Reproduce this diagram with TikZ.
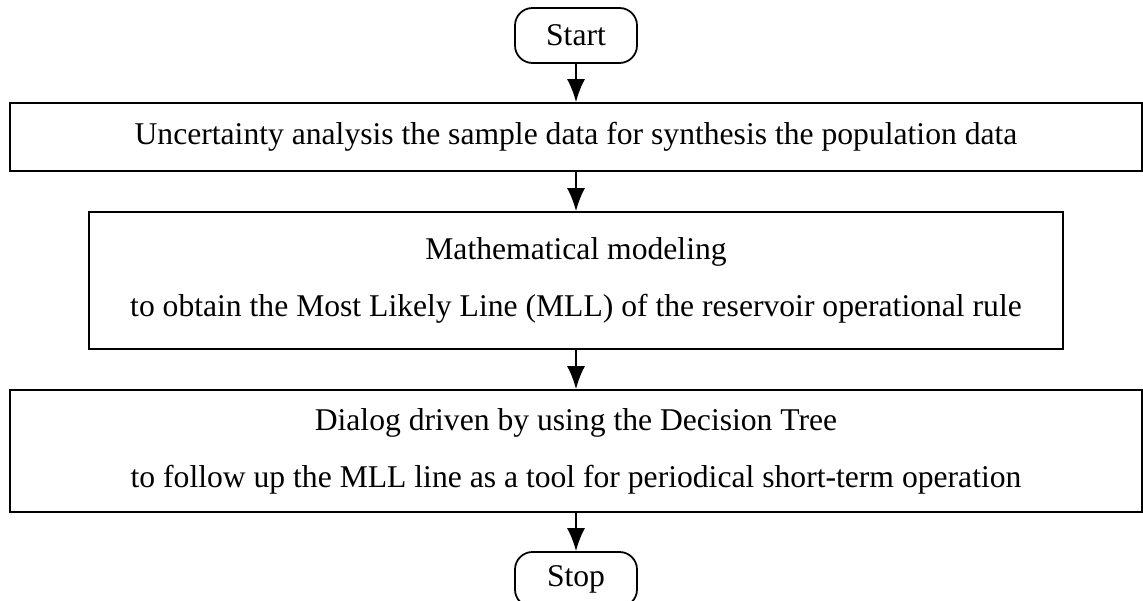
\documentclass[tikz,border=0pt]{standalone}
\usepackage{fontspec}
\setmainfont{Liberation Serif}
\usetikzlibrary{arrows.meta}
\begin{document}
\begin{tikzpicture}[x=1cm,y=1cm,
  every node/.style={font=\fontsize{18}{32.4}\selectfont},
  term/.style={draw,line width=1pt,rounded corners=0.35cm,minimum width=2.44cm,minimum height=1.10cm,inner sep=0pt},
  proc/.style={draw,line width=1pt,align=center,inner sep=0pt},
  flow/.style={-{Latex[length=4.6mm,width=3.6mm]},line width=1pt}]
\useasboundingbox (0,0) rectangle (22.86,-12.02);
\node[term] (start) at (11.52,-0.71) {Start};
\node[proc,minimum width=22.64cm,minimum height=1.36cm] (uncert) at (11.52,-2.74) {Uncertainty analysis the sample data for synthesis the population data};
\node[proc,minimum width=19.48cm,minimum height=2.74cm] (model) at (11.52,-5.61) {Mathematical modeling\\to obtain the Most Likely Line (MLL) of the reservoir operational rule};
\node[proc,minimum width=22.64cm,minimum height=2.44cm] (dialog) at (11.52,-9.02) {Dialog driven by using the Decision Tree\\to follow up the MLL line as a tool for periodical short-term operation};
\node[term] (stop) at (11.52,-11.59) {Stop};
\draw[flow] (start) -- (uncert);
\draw[flow] (uncert) -- (model);
\draw[flow] (model) -- (dialog);
\draw[flow] (dialog) -- (stop);
\end{tikzpicture}
\end{document}
